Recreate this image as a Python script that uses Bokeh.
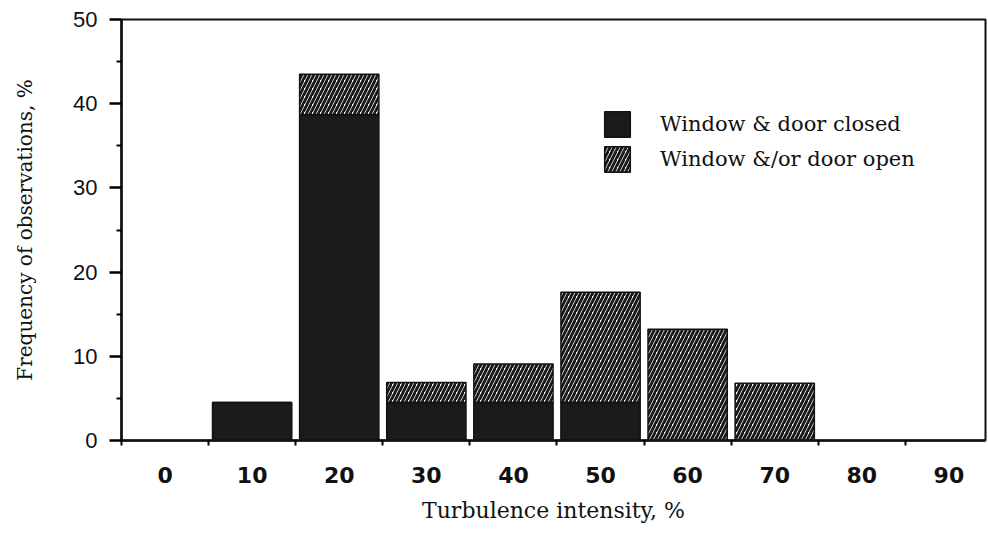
from bokeh.plotting import figure
from bokeh.models import Range1d, FixedTicker, Legend, LegendItem, ColumnDataSource
from bokeh.embed import file_html
from bokeh.resources import INLINE

# Turbulence-intensity classes (%) shown on the x axis
intensity_ticks = [0, 10, 20, 30, 40, 50, 60, 70, 80, 90]

# Classes that hold observations, with the share (%) in each ventilation state
bar_classes = [10, 20, 30, 40, 50, 60, 70]
closed_pct = [4.5, 38.7, 4.5, 4.5, 4.5, 0.0, 0.0]
open_pct = [0.0, 4.8, 2.4, 4.6, 13.1, 13.2, 6.8]

y_ticks = [0, 10, 20, 30, 40, 50]

src = ColumnDataSource(dict(
    x=bar_classes,
    closed=closed_pct,
    zero=[0.0] * len(bar_classes),
    total=[c + o for c, o in zip(closed_pct, open_pct)],
))

p = figure(
    width=988, height=537,
    x_range=Range1d(-5, 94.2), y_range=Range1d(0, 50),
    output_backend="svg", toolbar_location=None,
    min_border_left=121, min_border_right=3,
    min_border_top=19, min_border_bottom=97,
)
p.background_fill_color = "white"
p.border_fill_color = "white"
p.grid.visible = False
p.outline_line_color = "#111111"
p.outline_line_width = 2

INK = "#1b1b1b"
BAR_W = 9.1

closed_r = p.vbar(x="x", width=BAR_W, bottom="zero", top="closed", source=src,
                  fill_color=INK, line_color="#111111", line_width=1.5)
# open share: dark diagonal hatch leaving thin light stripes
open_r = p.vbar(x="x", width=BAR_W, bottom="closed", top="total", source=src,
                fill_color="white", line_color="#111111", line_width=1.5,
                hatch_pattern="/", hatch_color=INK, hatch_scale=8, hatch_weight=2.9)

# x axis: labels at class centres, tick marks on class boundaries
xa = p.xaxis[0]
xa.ticker = FixedTicker(ticks=intensity_ticks,
                        minor_ticks=[t - 5 for t in intensity_ticks] + [95])
xa.major_tick_out = 0
xa.major_tick_in = 0
xa.minor_tick_out = 5
xa.minor_tick_in = 0
xa.minor_tick_line_width = 2
xa.axis_line_width = 2.5
xa.axis_line_color = "#111111"
xa.major_label_text_font = "DejaVu Sans"
xa.major_label_text_font_style = "bold"
xa.major_label_text_font_size = "22px"
xa.major_label_text_color = "#111111"
xa.major_label_standoff = 21
xa.axis_label = "Turbulence intensity, %"
xa.axis_label_text_font = "DejaVu Serif"
xa.axis_label_text_font_style = "normal"
xa.axis_label_text_font_size = "22px"
xa.axis_label_text_color = "#111111"
xa.axis_label_standoff = 12

ya = p.yaxis[0]
ya.ticker = FixedTicker(ticks=y_ticks, minor_ticks=[5, 15, 25, 35, 45])
ya.major_tick_out = 12
ya.major_tick_in = 0
ya.minor_tick_out = 5
ya.minor_tick_in = 0
ya.major_tick_line_width = 2.5
ya.minor_tick_line_width = 2
ya.axis_line_width = 2.5
ya.axis_line_color = "#111111"
ya.major_label_text_font = "Liberation Sans"
ya.major_label_text_font_size = "22px"
ya.major_label_text_color = "#111111"
ya.major_label_standoff = 12
ya.axis_label = "Frequency of observations, %"
ya.axis_label_text_font = "DejaVu Serif"
ya.axis_label_text_font_style = "normal"
ya.axis_label_text_font_size = "20px"
ya.axis_label_text_color = "#111111"
ya.axis_label_standoff = 33

legend = Legend(
    items=[
        LegendItem(label="Window & door closed", renderers=[closed_r]),
        LegendItem(label="Window &/or door open", renderers=[open_r]),
    ],
    location=(480, 265),
    orientation="vertical",
    glyph_width=32, glyph_height=32,
    label_height=32, label_standoff=27, spacing=3,
    padding=0, margin=0,
    border_line_color=None, background_fill_alpha=0,
    label_text_font="DejaVu Serif", label_text_font_size="21px",
    label_text_color="#111111",
)
p.add_layout(legend, "center")

open("out.html", "w").write(file_html(p, INLINE))
